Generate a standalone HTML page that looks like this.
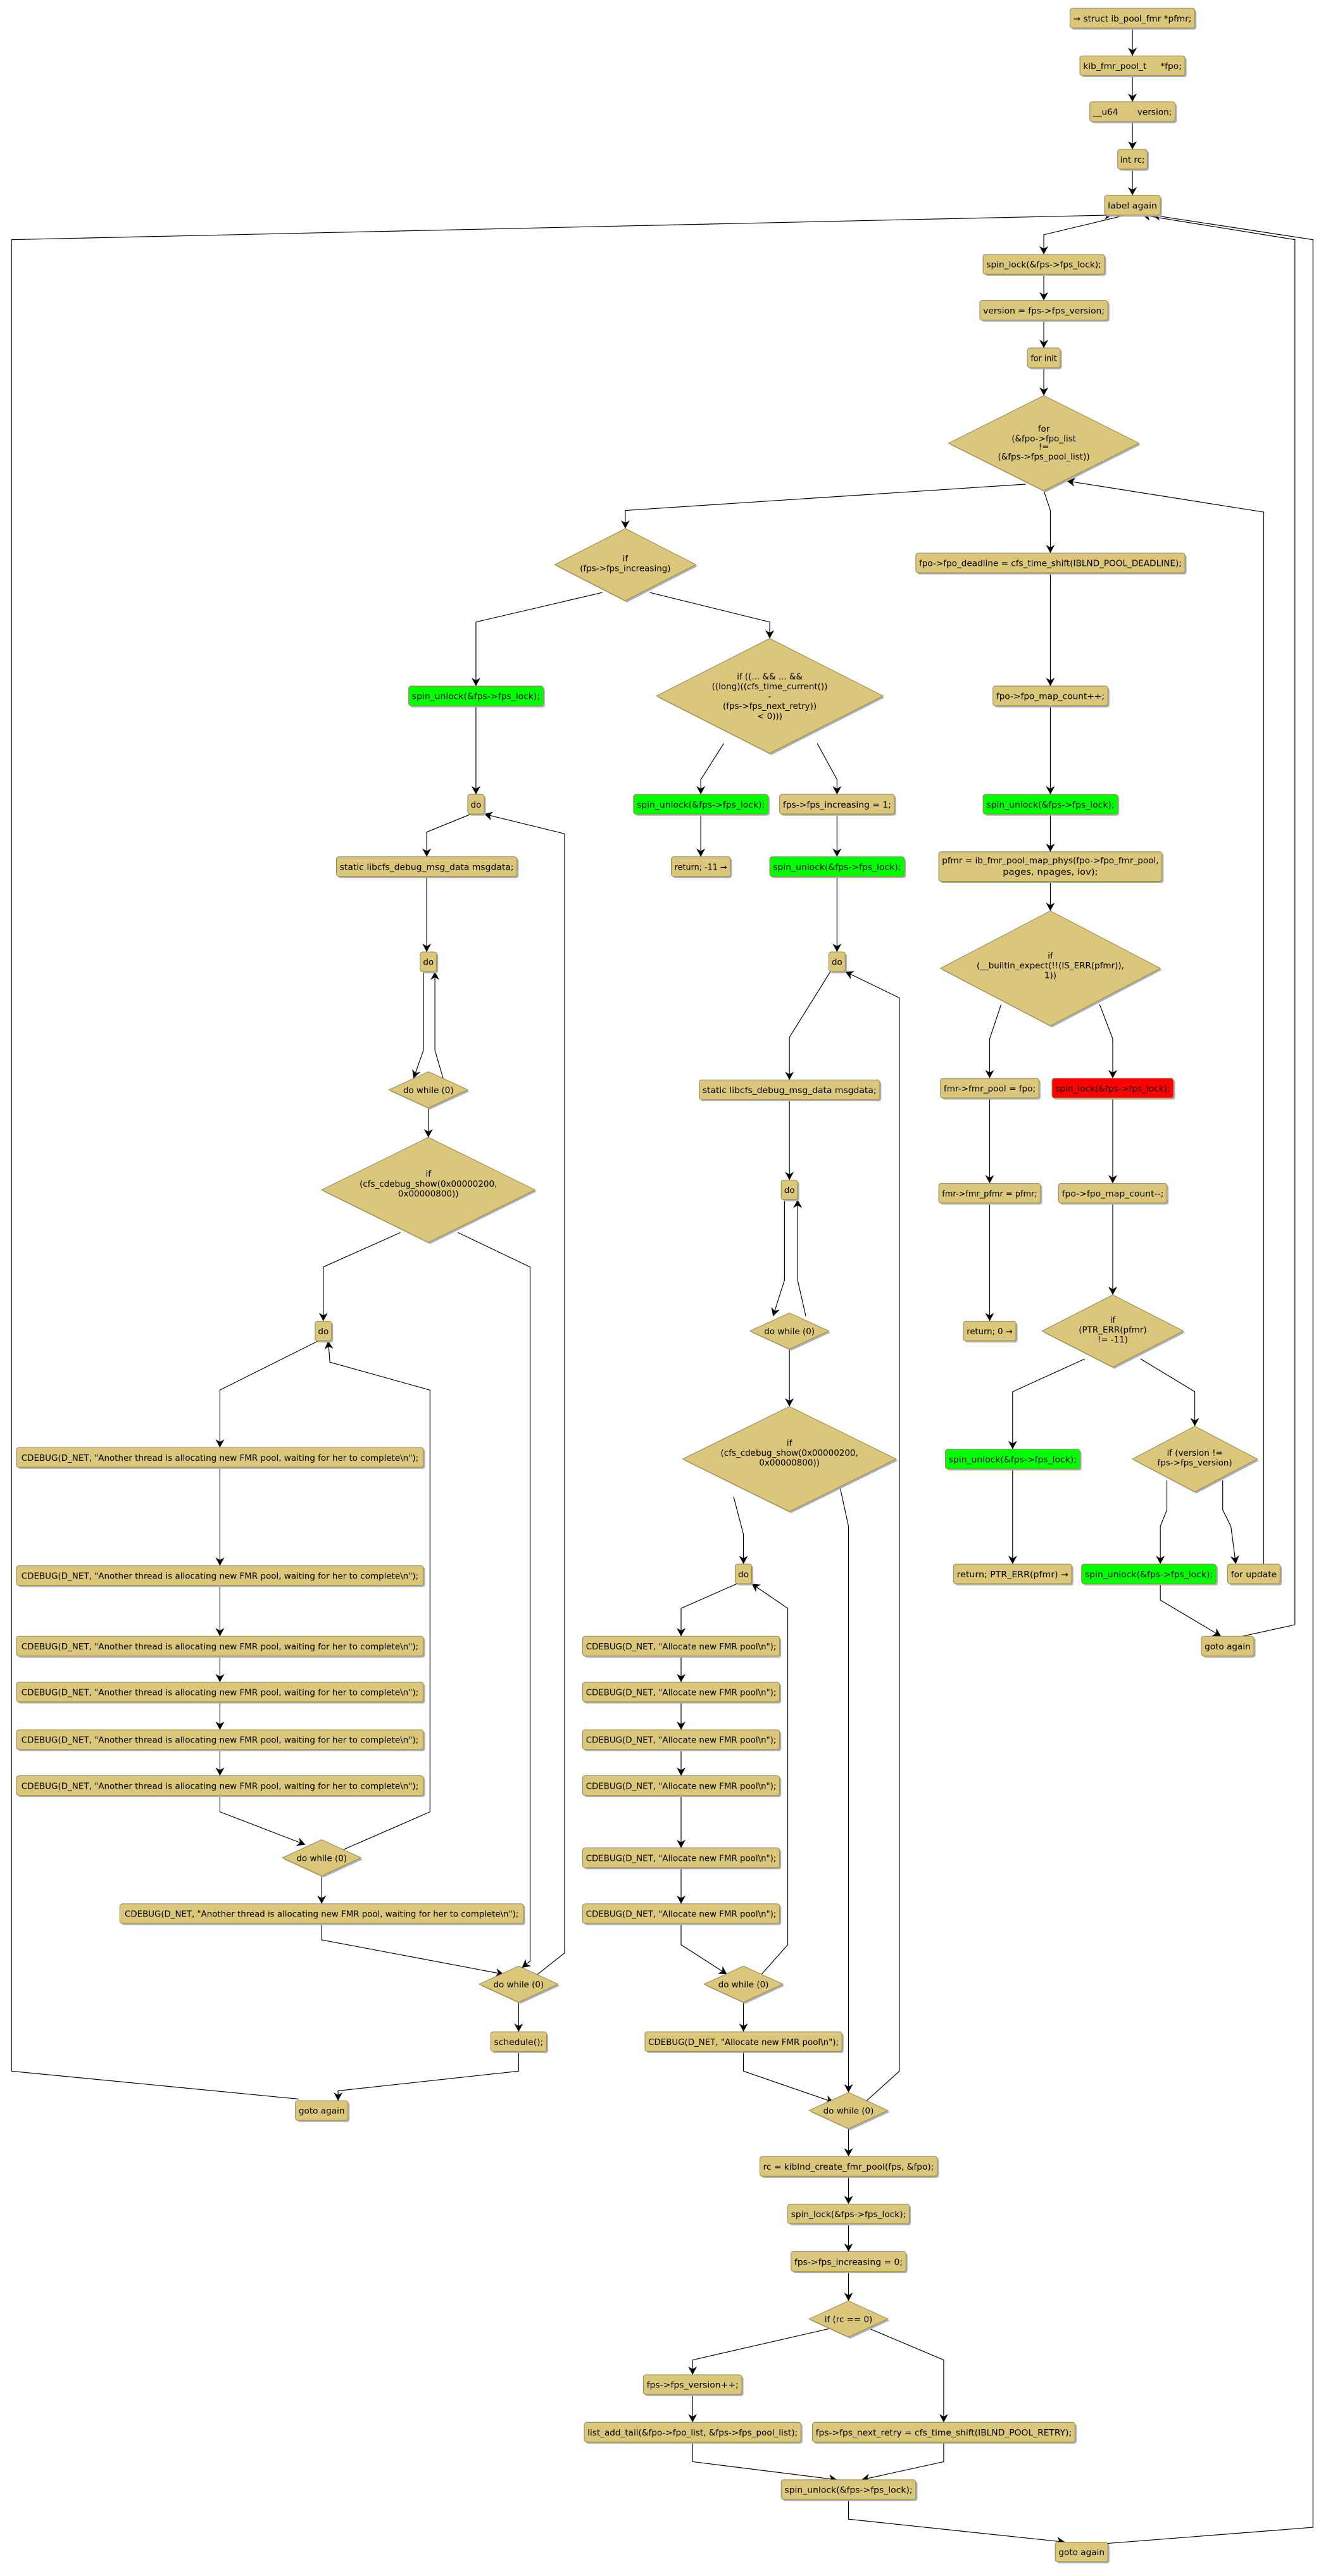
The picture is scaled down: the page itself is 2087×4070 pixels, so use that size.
<!DOCTYPE html>
<html><head><meta charset="utf-8">
<style>
html,body{margin:0;padding:0;background:#fff;}
svg{display:block;}
.s{fill:#a7b0cb;}
.b{fill:#dbc77b;stroke:#a08a3c;stroke-width:.4;}
.g{fill:#00ff00;stroke:#a08a3c;stroke-width:.4;}
.r{fill:#ff0000;stroke:#a08a3c;stroke-width:.4;}
text{font-family:"DejaVu Sans","Liberation Sans",sans-serif;font-size:5.2px;fill:#000;text-anchor:middle;white-space:pre;}
.e{fill:none;stroke:#000;stroke-width:.45;marker-end:url(#a);}
</style></head><body>
<svg width="2087" height="4070" viewBox="0 0 804.9 1569.6" xmlns="http://www.w3.org/2000/svg" xml:space="preserve">
<defs><marker id="a" markerUnits="userSpaceOnUse" markerWidth="6" markerHeight="6" refX="5" refY="3" orient="auto"><path d="M0,0.3 L5,3 L0,5.7 L1.5,3 Z" fill="#000"/></marker></defs>

<!-- edges -->
<g>
<path class="e" d="M690,17 V34"/>
<path class="e" d="M690,46 V62"/>
<path class="e" d="M690,74 V91"/>
<path class="e" d="M690,103 V119"/>
<path class="e" d="M686,131 L636,143 V155"/>
<path class="e" d="M636,167 V183"/>
<path class="e" d="M636,195 V212"/>
<path class="e" d="M636,224 V241"/>
<path class="e" d="M625,295 L381,311 V322"/>
<path class="e" d="M636,299 L640,311 V337"/>
<path class="e" d="M770,953 V312 L650,293"/>
<path class="e" d="M757,997 L789,990 V146 L696,131"/>
<path class="e" d="M672,1550 L800,1540 V146 L702,131"/>
<path class="e" d="M182,1279 L7,1262 V146 L678,131"/>
<path class="e" d="M640,349 V418"/>
<path class="e" d="M640,430 V484"/>
<path class="e" d="M640,496 V519"/>
<path class="e" d="M640,537 V555"/>
<path class="e" d="M610,612 L603,633 V657"/>
<path class="e" d="M670,612 L678,633 V657"/>
<path class="e" d="M603,669 V721"/>
<path class="e" d="M603,733 V805"/>
<path class="e" d="M678,669 V721"/>
<path class="e" d="M678,733 V789"/>
<path class="e" d="M661,828 L617,848 V883"/>
<path class="e" d="M695,828 L728,848 V869"/>
<path class="e" d="M617,895 V953"/>
<path class="e" d="M711,902 V920 L707,930 V953"/>
<path class="e" d="M745,902 V920 L750,930 L753,953"/>
<path class="e" d="M707,965 V975 L744,997"/>
<path class="e" d="M367,361 L290,379 V418"/>
<path class="e" d="M396,361 L469,379 V389"/>
<path class="e" d="M290,430 V484"/>
<path class="e" d="M287,496 L260,507 V522"/>
<path class="e" d="M260,534 V580"/>
<path class="e" d="M258,592 V640 L252,657"/>
<path class="e" d="M270,657 L265,640 V592"/>
<path class="e" d="M261,675 V693"/>
<path class="e" d="M244,751 L197,772 V805"/>
<path class="e" d="M279,751 L323,772 V1195 L318,1199"/>
<path class="e" d="M194,817 L134,847 V882"/>
<path class="e" d="M134,894 V954"/>
<path class="e" d="M134,966 V997"/>
<path class="e" d="M134,1009 V1025"/>
<path class="e" d="M134,1037 V1054"/>
<path class="e" d="M134,1066 V1082"/>
<path class="e" d="M134,1094 V1104 L186,1124"/>
<path class="e" d="M207,1128 L262,1104 V847 L201,830 L200,817"/>
<path class="e" d="M196,1143 V1160"/>
<path class="e" d="M196,1172 V1182 L307,1203"/>
<path class="e" d="M325,1205 L344,1190 V508 L295,496"/>
<path class="e" d="M316,1220 V1238"/>
<path class="e" d="M316,1250 V1262 L206,1274 V1280"/>
<path class="e" d="M441,453 L427,475 V484"/>
<path class="e" d="M498,453 L510,475 V484"/>
<path class="e" d="M427,496 V522"/>
<path class="e" d="M510,496 V522"/>
<path class="e" d="M510,534 V580"/>
<path class="e" d="M506,592 L481,632 V658"/>
<path class="e" d="M481,670 V719"/>
<path class="e" d="M478,731 V780 L471,802"/>
<path class="e" d="M491,802 L486,780 V731"/>
<path class="e" d="M481,822 V857"/>
<path class="e" d="M447,912 L453,935 V953"/>
<path class="e" d="M512,907 L517,930 V1275"/>
<path class="e" d="M449,965 L415,980 V997"/>
<path class="e" d="M415,1009 V1025"/>
<path class="e" d="M415,1037 V1054"/>
<path class="e" d="M415,1066 V1082"/>
<path class="e" d="M415,1094 V1126"/>
<path class="e" d="M415,1138 V1160"/>
<path class="e" d="M415,1172 V1185 L443,1203"/>
<path class="e" d="M464,1203 L480,1185 V980 L458,965"/>
<path class="e" d="M453,1220 V1238"/>
<path class="e" d="M453,1250 V1262 L508,1281"/>
<path class="e" d="M527,1281 L548,1262 V608 L515,592"/>
<path class="e" d="M517,1297 V1314"/>
<path class="e" d="M517,1326 V1343"/>
<path class="e" d="M517,1355 V1372"/>
<path class="e" d="M517,1384 V1402"/>
<path class="e" d="M505,1419 L422,1438 V1447"/>
<path class="e" d="M530,1419 L575,1438 V1476"/>
<path class="e" d="M422,1459 V1476"/>
<path class="e" d="M422,1488 V1500 L510,1511"/>
<path class="e" d="M575,1488 V1500 L525,1511"/>
<path class="e" d="M517,1523 V1535 L649,1549"/>
</g>

<!-- boxes -->
<g>
<rect class="s" x="653" y="6" width="76" height="12" rx="1.5"/><rect class="b" x="652" y="5" width="76" height="12" rx="1.5"/><text x="690" y="13" textLength="72" lengthAdjust="spacingAndGlyphs">→ struct ib_pool_fmr *pfmr;</text>
<rect class="s" x="659" y="35" width="64" height="12" rx="1.5"/><rect class="b" x="658" y="34" width="64" height="12" rx="1.5"/><text x="690" y="42" textLength="60" lengthAdjust="spacingAndGlyphs">kib_fmr_pool_t     *fpo;</text>
<rect class="s" x="665" y="63" width="52" height="12" rx="1.5"/><rect class="b" x="664" y="62" width="52" height="12" rx="1.5"/><text x="690" y="70" textLength="48" lengthAdjust="spacingAndGlyphs">__u64       version;</text>
<rect class="s" x="682" y="92" width="18" height="12" rx="1.5"/><rect class="b" x="681" y="91" width="18" height="12" rx="1.5"/><text x="690" y="99" textLength="15" lengthAdjust="spacingAndGlyphs">int rc;</text>
<rect class="s" x="674" y="120" width="34" height="12" rx="1.5"/><rect class="b" x="673" y="119" width="34" height="12" rx="1.5"/><text x="690" y="127" textLength="30" lengthAdjust="spacingAndGlyphs">label again</text>
<rect class="s" x="600" y="156" width="74" height="12" rx="1.5"/><rect class="b" x="599" y="155" width="74" height="12" rx="1.5"/><text x="636" y="163" textLength="70" lengthAdjust="spacingAndGlyphs">spin_lock(&amp;fps-&gt;fps_lock);</text>
<rect class="s" x="598" y="184" width="78" height="12" rx="1.5"/><rect class="b" x="597" y="183" width="78" height="12" rx="1.5"/><text x="636" y="191" textLength="74" lengthAdjust="spacingAndGlyphs">version = fps-&gt;fps_version;</text>
<rect class="s" x="627" y="213" width="20" height="12" rx="1.5"/><rect class="b" x="626" y="212" width="20" height="12" rx="1.5"/><text x="636" y="220" textLength="16" lengthAdjust="spacingAndGlyphs">for init</text>

<polygon class="s" points="637,242 695,271 637,300 579,271"/><polygon class="b" points="636,241 694,270 636,299 578,270"/>
<text x="636" y="263">for</text><text x="636" y="269">(&amp;fpo-&gt;fpo_list</text><text x="636" y="274">!=</text><text x="636" y="280">(&amp;fps-&gt;fps_pool_list))</text>

<rect class="s" x="559" y="338" width="164" height="12" rx="1.5"/><rect class="b" x="558" y="337" width="164" height="12" rx="1.5"/><text x="640" y="345" textLength="160" lengthAdjust="spacingAndGlyphs">fpo-&gt;fpo_deadline = cfs_time_shift(IBLND_POOL_DEADLINE);</text>
<rect class="s" x="606" y="419" width="70" height="12" rx="1.5"/><rect class="b" x="605" y="418" width="70" height="12" rx="1.5"/><text x="640" y="426" textLength="66" lengthAdjust="spacingAndGlyphs">fpo-&gt;fpo_map_count++;</text>
<rect class="s" x="600" y="485" width="82" height="12" rx="1.5"/><rect class="g" x="599" y="484" width="82" height="12" rx="1.5"/><text x="640" y="492" textLength="78" lengthAdjust="spacingAndGlyphs">spin_unlock(&amp;fps-&gt;fps_lock);</text>
<rect class="s" x="573" y="520" width="136" height="18" rx="1.5"/><rect class="b" x="572" y="519" width="136" height="18" rx="1.5"/><text x="640" y="526" textLength="132" lengthAdjust="spacingAndGlyphs">pfmr = ib_fmr_pool_map_phys(fpo-&gt;fpo_fmr_pool,</text><text x="640" y="533" textLength="58" lengthAdjust="spacingAndGlyphs">pages, npages, iov);</text>

<polygon class="s" points="641,556 708,591 641,626 574,591"/><polygon class="b" points="640,555 707,590 640,625 573,590"/>
<text x="640" y="584">if</text><text x="640" y="590">(__builtin_expect(!!(IS_ERR(pfmr)),</text><text x="640" y="596">1))</text>

<rect class="s" x="574" y="658" width="60" height="12" rx="1.5"/><rect class="b" x="573" y="657" width="60" height="12" rx="1.5"/><text x="603" y="665" textLength="56" lengthAdjust="spacingAndGlyphs">fmr-&gt;fmr_pool = fpo;</text>
<rect class="s" x="642" y="658" width="74" height="12" rx="1.5"/><rect class="r" x="641" y="657" width="74" height="12" rx="1.5"/><text x="678" y="665" textLength="70" lengthAdjust="spacingAndGlyphs">spin_lock(&amp;fps-&gt;fps_lock);</text>
<rect class="s" x="573" y="722" width="62" height="12" rx="1.5"/><rect class="b" x="572" y="721" width="62" height="12" rx="1.5"/><text x="603" y="729" textLength="58" lengthAdjust="spacingAndGlyphs">fmr-&gt;fmr_pfmr = pfmr;</text>
<rect class="s" x="646" y="722" width="66" height="12" rx="1.5"/><rect class="b" x="645" y="721" width="66" height="12" rx="1.5"/><text x="678" y="729" textLength="62" lengthAdjust="spacingAndGlyphs">fpo-&gt;fpo_map_count--;</text>
<rect class="s" x="588" y="806" width="32" height="12" rx="1.5"/><rect class="b" x="587" y="805" width="32" height="12" rx="1.5"/><text x="603" y="813" textLength="28" lengthAdjust="spacingAndGlyphs">return; 0 →</text>

<polygon class="s" points="679,790 722,812 679,834 636,812"/><polygon class="b" points="678,789 721,811 678,833 635,811"/>
<text x="678" y="806">if</text><text x="678" y="812">(PTR_ERR(pfmr)</text><text x="678" y="818">!= -11)</text>

<rect class="s" x="577" y="884" width="82" height="12" rx="1.5"/><rect class="g" x="576" y="883" width="82" height="12" rx="1.5"/><text x="617" y="891" textLength="78" lengthAdjust="spacingAndGlyphs">spin_unlock(&amp;fps-&gt;fps_lock);</text>
<polygon class="s" points="729,870 767,890 729,910 691,890"/><polygon class="b" points="728,869 766,889 728,909 690,889"/>
<text x="728" y="887">if (version !=</text><text x="728" y="893">fps-&gt;fps_version)</text>

<rect class="s" x="582" y="954" width="72" height="12" rx="1.5"/><rect class="b" x="581" y="953" width="72" height="12" rx="1.5"/><text x="617" y="961" textLength="68" lengthAdjust="spacingAndGlyphs">return; PTR_ERR(pfmr) →</text>
<rect class="s" x="660" y="954" width="82" height="12" rx="1.5"/><rect class="g" x="659" y="953" width="82" height="12" rx="1.5"/><text x="700" y="961" textLength="78" lengthAdjust="spacingAndGlyphs">spin_unlock(&amp;fps-&gt;fps_lock);</text>
<rect class="s" x="749" y="954" width="32" height="12" rx="1.5"/><rect class="b" x="748" y="953" width="32" height="12" rx="1.5"/><text x="764" y="961" textLength="28" lengthAdjust="spacingAndGlyphs">for update</text>
<rect class="s" x="733" y="998" width="32" height="12" rx="1.5"/><rect class="b" x="732" y="997" width="32" height="12" rx="1.5"/><text x="748" y="1005" textLength="28" lengthAdjust="spacingAndGlyphs">goto again</text>

<!-- middle -->
<polygon class="s" points="382,323 425,345 382,367 339,345"/><polygon class="b" points="381,322 424,344 381,366 338,344"/>
<text x="381" y="342">if</text><text x="381" y="348">(fps-&gt;fps_increasing)</text>

<rect class="s" x="250" y="419" width="82" height="12" rx="1.5"/><rect class="g" x="249" y="418" width="82" height="12" rx="1.5"/><text x="290" y="426" textLength="78" lengthAdjust="spacingAndGlyphs">spin_unlock(&amp;fps-&gt;fps_lock);</text>

<polygon class="s" points="470,390 539,425 470,460 401,425"/><polygon class="b" points="469,389 538,424 469,459 400,424"/>
<text x="469" y="414">if ((... &amp;&amp; ... &amp;&amp;</text><text x="469" y="420">((long)((cfs_time_current())</text><text x="469" y="426">-</text><text x="469" y="432">(fps-&gt;fps_next_retry))</text><text x="469" y="438">&lt; 0)))</text>

<rect class="s" x="387" y="485" width="82" height="12" rx="1.5"/><rect class="g" x="386" y="484" width="82" height="12" rx="1.5"/><text x="427" y="492" textLength="78" lengthAdjust="spacingAndGlyphs">spin_unlock(&amp;fps-&gt;fps_lock);</text>
<rect class="s" x="476" y="485" width="70" height="12" rx="1.5"/><rect class="b" x="475" y="484" width="70" height="12" rx="1.5"/><text x="510" y="492" textLength="66" lengthAdjust="spacingAndGlyphs">fps-&gt;fps_increasing = 1;</text>
<rect class="s" x="410" y="523" width="36" height="12" rx="1.5"/><rect class="b" x="409" y="522" width="36" height="12" rx="1.5"/><text x="427" y="530" textLength="32" lengthAdjust="spacingAndGlyphs">return; -11 →</text>
<rect class="s" x="470" y="523" width="82" height="12" rx="1.5"/><rect class="g" x="469" y="522" width="82" height="12" rx="1.5"/><text x="510" y="530" textLength="78" lengthAdjust="spacingAndGlyphs">spin_unlock(&amp;fps-&gt;fps_lock);</text>

<rect class="s" x="286" y="485" width="10" height="12" rx="1.5"/><rect class="b" x="285" y="484" width="10" height="12" rx="1.5"/><text x="290" y="492">do</text>
<rect class="s" x="206" y="523" width="110" height="12" rx="1.5"/><rect class="b" x="205" y="522" width="110" height="12" rx="1.5"/><text x="260" y="530" textLength="106" lengthAdjust="spacingAndGlyphs">static libcfs_debug_msg_data msgdata;</text>
<rect class="s" x="257" y="581" width="10" height="12" rx="1.5"/><rect class="b" x="256" y="580" width="10" height="12" rx="1.5"/><text x="261" y="588">do</text>
<polygon class="s" points="262,654 286,665 262,676 238,665"/><polygon class="b" points="261,653 285,664 261,675 237,664"/><text x="261" y="666">do while (0)</text>
<polygon class="s" points="262,694 327,726 262,758 197,726"/><polygon class="b" points="261,693 326,725 261,757 196,725"/>
<text x="261" y="717">if</text><text x="261" y="723">(cfs_cdebug_show(0x00000200,</text><text x="261" y="729">0x00000800))</text>
<rect class="s" x="193" y="806" width="10" height="12" rx="1.5"/><rect class="b" x="192" y="805" width="10" height="12" rx="1.5"/><text x="197" y="813">do</text>

<rect class="s" x="11" y="883" width="248" height="12" rx="1.5"/><rect class="b" x="10" y="882" width="248" height="12" rx="1.5"/><text x="134" y="890" textLength="242" lengthAdjust="spacingAndGlyphs">CDEBUG(D_NET, "Another thread is allocating new FMR pool, waiting for her to complete\n");</text>
<rect class="s" x="11" y="955" width="248" height="12" rx="1.5"/><rect class="b" x="10" y="954" width="248" height="12" rx="1.5"/><text x="134" y="962" textLength="242" lengthAdjust="spacingAndGlyphs">CDEBUG(D_NET, "Another thread is allocating new FMR pool, waiting for her to complete\n");</text>
<rect class="s" x="11" y="998" width="248" height="12" rx="1.5"/><rect class="b" x="10" y="997" width="248" height="12" rx="1.5"/><text x="134" y="1005" textLength="242" lengthAdjust="spacingAndGlyphs">CDEBUG(D_NET, "Another thread is allocating new FMR pool, waiting for her to complete\n");</text>
<rect class="s" x="11" y="1026" width="248" height="12" rx="1.5"/><rect class="b" x="10" y="1025" width="248" height="12" rx="1.5"/><text x="134" y="1033" textLength="242" lengthAdjust="spacingAndGlyphs">CDEBUG(D_NET, "Another thread is allocating new FMR pool, waiting for her to complete\n");</text>
<rect class="s" x="11" y="1055" width="248" height="12" rx="1.5"/><rect class="b" x="10" y="1054" width="248" height="12" rx="1.5"/><text x="134" y="1062" textLength="242" lengthAdjust="spacingAndGlyphs">CDEBUG(D_NET, "Another thread is allocating new FMR pool, waiting for her to complete\n");</text>
<rect class="s" x="11" y="1083" width="248" height="12" rx="1.5"/><rect class="b" x="10" y="1082" width="248" height="12" rx="1.5"/><text x="134" y="1090" textLength="242" lengthAdjust="spacingAndGlyphs">CDEBUG(D_NET, "Another thread is allocating new FMR pool, waiting for her to complete\n");</text>

<polygon class="s" points="197,1122 221,1133 197,1144 173,1133"/><polygon class="b" points="196,1121 220,1132 196,1143 172,1132"/><text x="196" y="1134">do while (0)</text>
<rect class="s" x="74" y="1161" width="246" height="12" rx="1.5"/><rect class="b" x="73" y="1160" width="246" height="12" rx="1.5"/><text x="196" y="1168" textLength="240" lengthAdjust="spacingAndGlyphs">CDEBUG(D_NET, "Another thread is allocating new FMR pool, waiting for her to complete\n");</text>
<polygon class="s" points="317,1199 341,1210 317,1221 293,1210"/><polygon class="b" points="316,1198 340,1209 316,1220 292,1209"/><text x="316" y="1211">do while (0)</text>
<rect class="s" x="300" y="1239" width="34" height="12" rx="1.5"/><rect class="b" x="299" y="1238" width="34" height="12" rx="1.5"/><text x="316" y="1246" textLength="30" lengthAdjust="spacingAndGlyphs">schedule();</text>
<rect class="s" x="181" y="1281" width="32" height="12" rx="1.5"/><rect class="b" x="180" y="1280" width="32" height="12" rx="1.5"/><text x="196" y="1288" textLength="28" lengthAdjust="spacingAndGlyphs">goto again</text>

<!-- middle col 2 -->
<rect class="s" x="506" y="581" width="10" height="12" rx="1.5"/><rect class="b" x="505" y="580" width="10" height="12" rx="1.5"/><text x="510" y="588">do</text>
<rect class="s" x="427" y="659" width="110" height="12" rx="1.5"/><rect class="b" x="426" y="658" width="110" height="12" rx="1.5"/><text x="481" y="666" textLength="106" lengthAdjust="spacingAndGlyphs">static libcfs_debug_msg_data msgdata;</text>
<rect class="s" x="477" y="720" width="10" height="12" rx="1.5"/><rect class="b" x="476" y="719" width="10" height="12" rx="1.5"/><text x="481" y="727">do</text>
<polygon class="s" points="482,801 506,812 482,823 458,812"/><polygon class="b" points="481,800 505,811 481,822 457,811"/><text x="481" y="813">do while (0)</text>
<polygon class="s" points="482,858 547,890 482,922 417,890"/><polygon class="b" points="481,857 546,889 481,921 416,889"/>
<text x="481" y="881">if</text><text x="481" y="887">(cfs_cdebug_show(0x00000200,</text><text x="481" y="893">0x00000800))</text>
<rect class="s" x="449" y="954" width="10" height="12" rx="1.5"/><rect class="b" x="448" y="953" width="10" height="12" rx="1.5"/><text x="453" y="961">do</text>

<rect class="s" x="356" y="998" width="120" height="12" rx="1.5"/><rect class="b" x="355" y="997" width="120" height="12" rx="1.5"/><text x="415" y="1005" textLength="116" lengthAdjust="spacingAndGlyphs">CDEBUG(D_NET, "Allocate new FMR pool\n");</text>
<rect class="s" x="356" y="1026" width="120" height="12" rx="1.5"/><rect class="b" x="355" y="1025" width="120" height="12" rx="1.5"/><text x="415" y="1033" textLength="116" lengthAdjust="spacingAndGlyphs">CDEBUG(D_NET, "Allocate new FMR pool\n");</text>
<rect class="s" x="356" y="1055" width="120" height="12" rx="1.5"/><rect class="b" x="355" y="1054" width="120" height="12" rx="1.5"/><text x="415" y="1062" textLength="116" lengthAdjust="spacingAndGlyphs">CDEBUG(D_NET, "Allocate new FMR pool\n");</text>
<rect class="s" x="356" y="1083" width="120" height="12" rx="1.5"/><rect class="b" x="355" y="1082" width="120" height="12" rx="1.5"/><text x="415" y="1090" textLength="116" lengthAdjust="spacingAndGlyphs">CDEBUG(D_NET, "Allocate new FMR pool\n");</text>
<rect class="s" x="356" y="1127" width="120" height="12" rx="1.5"/><rect class="b" x="355" y="1126" width="120" height="12" rx="1.5"/><text x="415" y="1134" textLength="116" lengthAdjust="spacingAndGlyphs">CDEBUG(D_NET, "Allocate new FMR pool\n");</text>
<rect class="s" x="356" y="1161" width="120" height="12" rx="1.5"/><rect class="b" x="355" y="1160" width="120" height="12" rx="1.5"/><text x="415" y="1168" textLength="116" lengthAdjust="spacingAndGlyphs">CDEBUG(D_NET, "Allocate new FMR pool\n");</text>

<polygon class="s" points="454,1199 478,1210 454,1221 430,1210"/><polygon class="b" points="453,1198 477,1209 453,1220 429,1209"/><text x="453" y="1211">do while (0)</text>
<rect class="s" x="394" y="1239" width="120" height="12" rx="1.5"/><rect class="b" x="393" y="1238" width="120" height="12" rx="1.5"/><text x="453" y="1246" textLength="116" lengthAdjust="spacingAndGlyphs">CDEBUG(D_NET, "Allocate new FMR pool\n");</text>
<polygon class="s" points="518,1276 542,1287 518,1298 494,1287"/><polygon class="b" points="517,1275 541,1286 517,1297 493,1286"/><text x="517" y="1288">do while (0)</text>

<rect class="s" x="464" y="1315" width="108" height="12" rx="1.5"/><rect class="b" x="463" y="1314" width="108" height="12" rx="1.5"/><text x="517" y="1322" textLength="104" lengthAdjust="spacingAndGlyphs">rc = kiblnd_create_fmr_pool(fps, &amp;fpo);</text>
<rect class="s" x="481" y="1344" width="74" height="12" rx="1.5"/><rect class="b" x="480" y="1343" width="74" height="12" rx="1.5"/><text x="517" y="1351" textLength="70" lengthAdjust="spacingAndGlyphs">spin_lock(&amp;fps-&gt;fps_lock);</text>
<rect class="s" x="483" y="1373" width="70" height="12" rx="1.5"/><rect class="b" x="482" y="1372" width="70" height="12" rx="1.5"/><text x="517" y="1380" textLength="66" lengthAdjust="spacingAndGlyphs">fps-&gt;fps_increasing = 0;</text>
<polygon class="s" points="518,1403 542,1414 518,1425 494,1414"/><polygon class="b" points="517,1402 541,1413 517,1424 493,1413"/><text x="517" y="1415">if (rc == 0)</text>

<rect class="s" x="393" y="1448" width="60" height="12" rx="1.5"/><rect class="b" x="392" y="1447" width="60" height="12" rx="1.5"/><text x="422" y="1455" textLength="56" lengthAdjust="spacingAndGlyphs">fps-&gt;fps_version++;</text>
<rect class="s" x="357" y="1477" width="132" height="12" rx="1.5"/><rect class="b" x="356" y="1476" width="132" height="12" rx="1.5"/><text x="422" y="1484" textLength="128" lengthAdjust="spacingAndGlyphs">list_add_tail(&amp;fpo-&gt;fpo_list, &amp;fps-&gt;fps_pool_list);</text>
<rect class="s" x="496" y="1477" width="160" height="12" rx="1.5"/><rect class="b" x="495" y="1476" width="160" height="12" rx="1.5"/><text x="575" y="1484" textLength="156" lengthAdjust="spacingAndGlyphs">fps-&gt;fps_next_retry = cfs_time_shift(IBLND_POOL_RETRY);</text>
<rect class="s" x="477" y="1512" width="82" height="12" rx="1.5"/><rect class="b" x="476" y="1511" width="82" height="12" rx="1.5"/><text x="517" y="1519" textLength="78" lengthAdjust="spacingAndGlyphs">spin_unlock(&amp;fps-&gt;fps_lock);</text>
<rect class="s" x="644" y="1550" width="32" height="12" rx="1.5"/><rect class="b" x="643" y="1549" width="32" height="12" rx="1.5"/><text x="659" y="1557" textLength="28" lengthAdjust="spacingAndGlyphs">goto again</text>
</g>
</svg>
</body></html>
